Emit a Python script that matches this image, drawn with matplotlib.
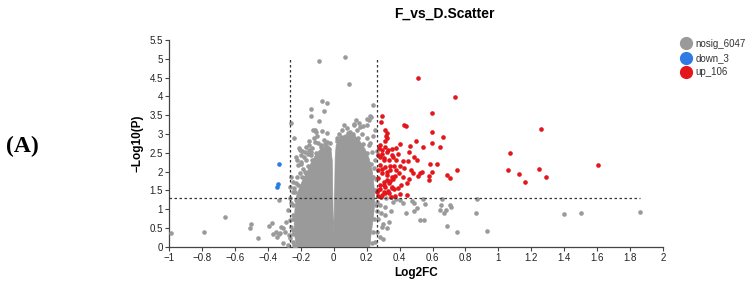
import matplotlib
matplotlib.use("Agg")
import matplotlib.pyplot as plt
from matplotlib.lines import Line2D

plt.rcParams['font.family'] = ['Liberation Sans', 'DejaVu Sans']

# thresholds: |log2FC| > log2(1.2), p < 0.05
fc_cut = 0.263
p_cut = 1.301

# grey points outside the dense core
nosig_x = [-0.988, -0.789, -0.658, -0.504, -0.508, -0.460, -0.393, -0.375, -0.367, -0.343,
           -0.334, -0.351, -0.331, -0.306, -0.319, -0.328, -0.310, -0.298,
           -0.267, -0.258, -0.278, -0.247, -0.288, -0.258, -0.267, -0.237, -0.250, -0.265,
           -0.250, -0.270, -0.245, -0.280, -0.258, -0.247, -0.267, -0.240, -0.230, -0.220,
           -0.092, -0.073, -0.039, -0.138, -0.059, -0.136, -0.088, -0.262, -0.240, -0.114,
           -0.073, -0.043, -0.126, -0.106, -0.147, -0.116, -0.096, -0.076, -0.207, -0.177,
           -0.156, -0.136, -0.228, -0.197, -0.217, -0.187, -0.207, -0.167,
           -0.210, -0.190, -0.170, -0.150, -0.200, -0.180, -0.140, -0.130, -0.220, -0.200,
           -0.170, -0.120, -0.100, -0.060, -0.040, -0.020, -0.150, -0.080,
           -0.235, -0.215, -0.195, -0.175, -0.155, -0.130, -0.105, -0.070, -0.050, -0.030,
           -0.245, -0.250, -0.245, -0.240, -0.230,
           0.070, 0.094, 0.240, 0.220, 0.204, 0.135, 0.123, 0.159, 0.179, 0.121, 0.151,
           0.201, 0.215, 0.228, 0.212, 0.232, 0.242, 0.030, 0.050, 0.080, 0.100, 0.140,
           0.170, 0.200, 0.220, 0.060, 0.020, 0.250, 0.255, 0.260, 0.250, 0.240,
           0.020, 0.045, 0.085, 0.115, 0.145, 0.175, 0.200, 0.225, 0.240, 0.250, 0.255,
           0.245, 0.240, 0.230,
           0.293, 0.262, 0.282, 0.252, 0.313, 0.333, 0.317, 0.345, 0.422, 0.473, 0.486,
           0.543, 0.553, 0.437, 0.503, 0.489, 0.655, 0.649, 0.705, 0.715, 0.680, 0.644,
           0.668, 0.867, 0.863, 0.522, 0.548, 0.685, 0.746, 0.928, 0.321, 0.300, 0.260,
           0.265, 0.270, 0.310, 0.290, 0.300, 0.280, 0.360, 0.380, 0.400, 0.350,
           1.401, 1.500, 1.860]
nosig_y = [0.36, 0.38, 0.78, 0.60, 0.49, 0.22, 0.55, 0.63, 0.34, 0.26,
           1.24, 0.38, 0.34, 0.51, 0.53, 0.36, 0.09, 0.40,
           1.29, 1.15, 0.98, 0.84, 0.66, 0.53, 0.22, 0.00, 1.45, 0.70,
           0.45, 0.30, 0.12, 0.05, 1.86, 1.73, 1.60, 1.55, 1.70, 1.85,
           4.95, 3.88, 3.83, 3.66, 3.61, 3.48, 3.35, 3.30, 2.88, 3.10,
           3.08, 3.03, 3.10, 3.06, 2.81, 2.79, 2.75, 2.66, 2.57, 2.53,
           2.48, 2.44, 2.39, 2.26, 2.17, 2.08, 1.95, 1.95,
           2.62, 2.55, 2.66, 2.58, 2.45, 2.40, 2.52, 2.62, 2.30, 2.20,
           2.30, 2.90, 2.95, 2.85, 2.78, 2.75, 2.70, 2.70,
           1.45, 1.65, 1.85, 1.98, 2.15, 2.32, 2.50, 2.62, 2.72, 2.60,
           0.35, 0.75, 1.10, 0.05, 1.25,
           5.04, 4.32, 3.77, 3.48, 3.41, 3.37, 3.26, 3.19, 3.21, 3.24, 3.28,
           3.24, 3.37, 3.46, 2.70, 2.53, 2.09, 3.00, 3.10, 3.15, 3.05, 3.10,
           3.00, 2.90, 2.75, 3.25, 2.90, 2.30, 1.80, 2.55, 3.10, 2.95,
           2.80, 2.92, 3.02, 3.00, 2.90, 2.72, 2.50, 2.20, 1.85, 1.50, 1.10,
           0.75, 0.40, 0.10,
           0.53, 0.40, 0.27, 0.13, 0.84, 0.66, 1.29, 1.33, 1.15, 1.22, 1.15,
           1.26, 1.14, 0.91, 1.02, 0.96, 1.26, 1.11, 1.11, 1.05, 0.99, 0.98,
           0.90, 1.27, 0.90, 0.70, 0.71, 0.56, 0.39, 0.43, 0.49, 0.20, 1.20,
           0.95, 0.75, 1.05, 0.90, 0.60, 1.10, 1.20, 1.28, 1.25, 0.95,
           0.86, 0.89, 0.92]

# outline of the solid grey core (volcano body), with the thin split at log2FC = 0
core_x = [-0.225, -0.235, -0.240, -0.235, -0.225, -0.205, -0.185, -0.160, -0.140, -0.115,
          -0.090, -0.060, -0.035, -0.018, -0.009, -0.006, -0.003, 0.000, 0.003, 0.006,
          0.009, 0.015, 0.035, 0.065, 0.100, 0.130, 0.160, 0.190, 0.215, 0.235,
          0.245, 0.250, 0.245, 0.235, 0.225, 0.220]
core_y = [0.00, 0.25, 0.60, 1.00, 1.35, 1.60, 1.80, 2.00, 2.20, 2.40,
          2.55, 2.65, 2.70, 2.62, 2.30, 1.50, 0.80, 0.35, 0.80, 1.50,
          2.35, 2.70, 2.85, 2.97, 3.00, 2.95, 2.80, 2.60, 2.35, 2.00,
          1.60, 1.30, 0.95, 0.60, 0.25, 0.00]

down_x = [-0.334, -0.337, -0.345]
down_y = [2.19, 1.68, 1.59]

up_x = [0.509, 0.734, 0.594, 0.294, 0.286, 0.426, 0.436, 0.309, 0.321, 0.598,
        0.665, 0.315, 0.325, 0.309, 0.501, 0.400, 0.598, 0.276, 0.461, 0.543,
        0.644, 0.351, 0.377, 0.329, 0.458, 0.292, 0.390, 0.280, 0.422, 0.454,
        0.503, 0.306, 0.341, 0.367, 0.400, 0.428, 0.586, 0.628, 0.749, 0.292,
        0.321, 0.394, 0.539, 0.525, 0.509, 0.598, 0.580, 0.687, 0.705, 0.458,
        0.442, 0.576, 0.442,
        1.257, 1.073, 1.057, 1.122, 1.160, 1.249, 1.286, 1.603,
        0.282, 0.312, 0.292, 0.323, 0.353, 0.272, 0.303, 0.333, 0.282, 0.312,
        0.343, 0.272, 0.292, 0.323, 0.353, 0.272, 0.303, 0.333, 0.282, 0.312,
        0.353, 0.272, 0.303, 0.333, 0.292,
        0.321, 0.341, 0.305, 0.351, 0.365, 0.331, 0.280, 0.263, 0.392, 0.310,
        0.370, 0.380, 0.360, 0.270, 0.285, 0.400, 0.370, 0.350, 0.360, 0.410,
        0.420, 0.470, 0.480, 0.490, 0.380]
up_y = [4.48, 3.98, 3.56, 3.48, 3.31, 3.24, 3.22, 3.10, 3.03, 3.04,
        2.92, 2.95, 2.90, 2.82, 2.81, 2.72, 2.76, 2.64, 2.67, 2.65,
        2.65, 2.59, 2.62, 2.57, 2.53, 2.47, 2.47, 2.39, 2.29, 2.29,
        2.31, 2.31, 2.15, 2.15, 2.15, 2.09, 2.21, 2.19, 2.05, 2.06,
        2.00, 1.95, 2.00, 1.95, 1.89, 1.99, 1.88, 1.92, 1.84, 1.80,
        1.70, 1.77, 1.37,
        3.12, 2.50, 2.03, 1.94, 1.73, 2.06, 1.85, 2.17,
        2.70, 2.66, 2.57, 2.53, 2.44, 2.44, 2.35, 2.31, 2.17, 2.13,
        2.04, 2.04, 1.95, 1.91, 1.86, 1.82, 1.73, 1.69, 1.64, 1.60,
        1.60, 1.51, 1.46, 1.42, 1.37,
        1.77, 1.74, 1.64, 1.55, 1.53, 1.48, 1.53, 1.46, 1.55, 1.42,
        1.88, 2.30, 2.40, 1.35, 1.32, 1.40, 1.35, 1.32, 1.80, 1.65,
        1.85, 2.05, 1.95, 2.40, 2.05]

labels = ['nosig_6047', 'down_3', 'up_106']
x_ticks = [-1, -0.8, -0.6, -0.4, -0.2, 0, 0.2, 0.4, 0.6, 0.8, 1, 1.2, 1.4, 1.6, 1.8, 2]
x_ticklabels = ['\u22121', '\u22120.8', '\u22120.6', '\u22120.4', '\u22120.2', '0', '0.2', '0.4',
                '0.6', '0.8', '1', '1.2', '1.4', '1.6', '1.8', '2']
y_ticks = [0, 0.5, 1, 1.5, 2, 2.5, 3, 3.5, 4, 4.5, 5, 5.5]
y_ticklabels = ['0', '0.5', '1', '1.5', '2', '2.5', '3', '3.5', '4', '4.5', '5', '5.5']

grey = '#9a9a9a'
blue = '#2f7ae5'
red = '#e3161b'

fig = plt.figure(figsize=(7.51, 2.86), dpi=100)
ax = fig.add_axes([0.225, 0.1374, 0.658, 0.7226])

ax.fill(core_x, core_y, color=grey, lw=0.5, ec=grey, zorder=2)
ax.scatter(nosig_x, nosig_y, s=11, color=grey, lw=0, zorder=3)
ax.scatter(down_x, down_y, s=11, color=blue, lw=0, zorder=3)
ax.scatter(up_x, up_y, s=11, color=red, lw=0, zorder=3)

ax.vlines([-fc_cut, fc_cut], 0, 5.0, colors='#333333', linestyles=(0, (2, 2)), lw=0.9, zorder=4)
ax.hlines(p_cut, -1, 1.86, colors='#333333', linestyles=(0, (2, 2)), lw=0.9, zorder=4)

ax.set_xlim(-1, 2)
ax.set_ylim(0, 5.5)
ax.set_xticks(x_ticks)
ax.set_xticklabels(x_ticklabels)
ax.set_yticks(y_ticks)
ax.set_yticklabels(y_ticklabels)
ax.tick_params(direction='out', length=3, width=0.8, color='#444444', labelsize=7,
               labelcolor='#222222', pad=1.5)
for side in ['top', 'right']:
    ax.spines[side].set_visible(False)
for side in ['left', 'bottom']:
    ax.spines[side].set_color('#444444')
    ax.spines[side].set_linewidth(0.9)

ax.set_xlabel('Log2FC', fontsize=8.5, fontweight='bold', labelpad=3)
ax.set_ylabel('\u2212Log10(P)', fontsize=8.5, fontweight='bold', labelpad=4)
fig.text(0.592, 0.952, 'F_vs_D.Scatter', fontsize=10, fontweight='bold', ha='center', va='center')

handles = [Line2D([], [], ls='', marker='o', ms=8.5, color=c) for c in [grey, blue, red]]
fig.legend(handles, labels, loc='upper left', bbox_to_anchor=(0.908, 0.865), frameon=False,
           fontsize=7, handlelength=0.8, handletextpad=0.6, labelspacing=0.45,
           borderpad=0, borderaxespad=0, labelcolor='#333333')

fig.text(0.03, 0.487, '(A)', fontsize=17, fontweight='bold', family='Liberation Serif',
         ha='center', va='center')

fig.savefig('out.png', dpi=100, facecolor='white')
